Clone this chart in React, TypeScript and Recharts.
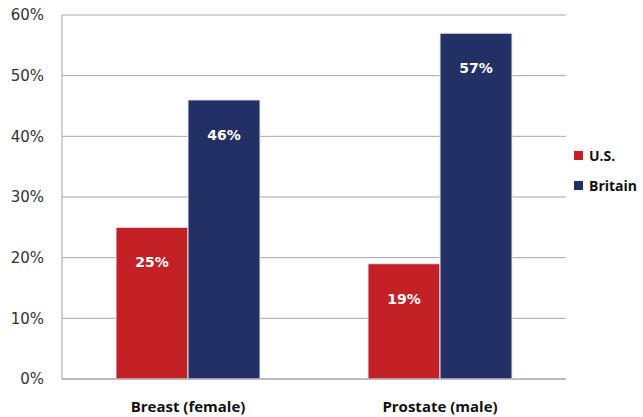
import { BarChart, Bar, XAxis, YAxis, CartesianGrid, LabelList } from 'recharts'

const CATEGORIES = ['Breast (female)', 'Prostate (male)']
const US_RATES = [25, 19]
const BRITAIN_RATES = [46, 57]
const Y_TICKS = [0, 10, 20, 30, 40, 50, 60]

const SERIES = [
  { key: 'us', name: 'U.S.', color: '#C42127' },
  { key: 'britain', name: 'Britain', color: '#233065' },
]

const data = CATEGORIES.map((name, i) => ({
  name,
  us: US_RATES[i],
  britain: BRITAIN_RATES[i],
}))

const FONT = '"DejaVu Sans", sans-serif'
const BOLD_FONT = '"Open Sans", sans-serif'

// legend sits beside the plot, outside the chart's own layout
function SideLegend() {
  return (
    <div
      style={{
        position: 'absolute',
        left: 574,
        top: 140,
        fontFamily: BOLD_FONT,
        fontWeight: 700,
        fontSize: 14,
        color: '#111',
      }}
    >
      {SERIES.map((s) => (
        <div key={s.key} style={{ display: 'flex', alignItems: 'center', height: 30 }}>
          <span style={{ width: 9, height: 9, background: s.color, marginRight: 6, display: 'inline-block' }} />
          {s.name}
        </div>
      ))}
    </div>
  )
}

export default function App() {
  return (
    <div style={{ position: 'absolute', left: 0, top: 0, width: 643, height: 417, background: '#fff' }}>
      <BarChart
        width={643}
        height={417}
        data={data}
        margin={{ top: 15, right: 77, bottom: 0, left: 0 }}
        barGap={0}
      >
        <CartesianGrid vertical={false} stroke="#A6A6A6" />
        <XAxis
          dataKey="name"
          height={38}
          axisLine={{ stroke: '#A6A6A6' }}
          tickLine={false}
          tick={{ fontFamily: BOLD_FONT, fontWeight: 700, fontSize: 15, fill: '#111' }}
          dy={14}
        />
        <YAxis
          width={62}
          domain={[0, 60]}
          ticks={Y_TICKS}
          interval={0}
          axisLine={{ stroke: '#A6A6A6' }}
          tickLine={false}
          tickFormatter={(v) => `${v}%`}
          tick={{ fontFamily: FONT, fontSize: 15, fill: '#333' }}
          dx={-10}
        />
        {SERIES.map((s) => (
          <Bar
            key={s.key}
            dataKey={s.key}
            name={s.name}
            fill={s.color}
            stroke="#E4E6F2"
            strokeWidth={1}
            barSize={72}
            isAnimationActive={false}
          >
            <LabelList
              dataKey={s.key}
              position="insideTop"
              offset={30}
              formatter={(v: number) => `${v}%`}
              style={{ fontFamily: FONT, fontWeight: 700, fontSize: 14, fill: '#fff' }}
            />
          </Bar>
        ))}
      </BarChart>
      <SideLegend />
    </div>
  )
}
